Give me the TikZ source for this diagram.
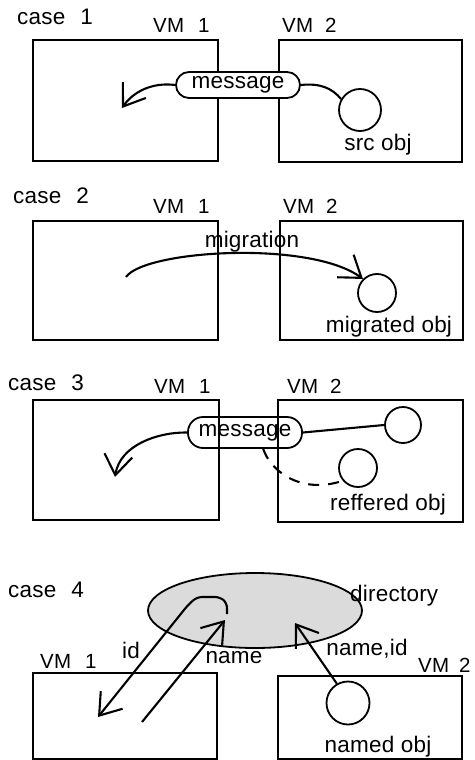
\documentclass[tikz,border=0pt]{standalone}
\usepackage{fontspec}
\setmainfont{Liberation Sans}[LetterSpace=1]
\newfontfamily\vmfont{Liberation Sans}[LetterSpace=1]
\usetikzlibrary{arrows.meta,shapes.geometric}
\begin{document}
\begin{tikzpicture}[x=1pt,y=-1pt,
  every node/.style={font=\fontsize{22.5}{24}\selectfont},
  txt/.style={inner sep=0pt},
  vml/.style={inner sep=0pt, anchor=base west, font=\vmfont\fontsize{20.5}{22}\selectfont},
  vmbox/.style={draw, rectangle, line width=1.8pt, inner sep=0pt},
  obj/.style={draw, circle, line width=1.8pt, inner sep=0pt},
  msgbox/.style={draw, rectangle, line width=1.8pt, inner sep=0pt},
  conn/.style={line width=2.1pt},
  arr/.style={conn, -{Straight Barb[length=20pt,width=28pt]}},
  dashline/.style={conn, dash pattern=on 11pt off 9pt},
]
\useasboundingbox (0,0) rectangle (474,760);

% ---------- case 1
\node[txt, anchor=base west] (t1) at (17,25) {case\hskip 15pt 1};
\node[vml] (v11) at (153,33) {VM\hskip 14pt 1};
\node[vml] (v12) at (282,33) {VM\hskip 12pt 2};
\node[vmbox, minimum width=185pt, minimum height=121pt] (a1) at (125.5,100.5) {};
\node[vmbox, minimum width=183pt, minimum height=122pt] (a2) at (370.5,101) {};
\node[msgbox, rounded corners=13pt, fill=white, minimum width=124pt, minimum height=26pt] (m1) at (238,85) {message};
\node[obj, minimum size=42pt] (o1) at (360,110) {};
\node[txt, anchor=base] (s1) at (378,150) {src obj};
\coordinate (e1) at (122,108);
\draw[arr] (m1.west) .. controls (152,82) and (133,92) .. (e1);
\draw[conn] (m1.east) .. controls (320,83) and (332,88) .. (o1.150);

% ---------- case 2
\node[txt, anchor=base west] (t2) at (13,203) {case\hskip 15pt 2};
\node[vml] (v21) at (153,213) {VM\hskip 14pt 1};
\node[vml] (v22) at (283,213) {VM\hskip 12pt 2};
\node[vmbox, minimum width=185pt, minimum height=119pt] (b1) at (125.5,280.5) {};
\node[vmbox, minimum width=183pt, minimum height=119pt] (b2) at (371.5,280.5) {};
\node[txt, anchor=base] (mig) at (252,247) {migration};
\node[obj, minimum size=38pt] (o2) at (377,293) {};
\node[txt, anchor=base] (s2) at (389,332) {migrated obj};
\coordinate (st2) at (126,277);
\draw[arr] (st2) .. controls (145,250) and (310,240) .. (o2.135);

% ---------- case 3
\node[txt, anchor=base west] (t3) at (8,390) {case\hskip 15pt 3};
\node[vml] (v31) at (154,393) {VM\hskip 14pt 1};
\node[vml] (v32) at (287,393) {VM\hskip 12pt 2};
\node[vmbox, minimum width=186pt, minimum height=120pt] (c1) at (126,460) {};
\node[vmbox, minimum width=185pt, minimum height=122pt] (c2) at (370.5,461) {};
\node[msgbox, rounded corners=15pt, minimum width=114pt, minimum height=31pt] (m3) at (245,432.5) {message};
\node[obj, minimum size=36pt] (o3a) at (403,425) {};
\node[obj, minimum size=38pt] (o3b) at (358,468) {};
\node[txt, anchor=base] (s3) at (388,510) {reffered obj};
\coordinate (e3) at (115,477);
\draw[arr] (m3.west) .. controls (158,432) and (120,445) .. (e3);
\draw[conn] (m3.east) -- (o3a.west);
\draw[dashline] (m3.-42) .. controls (270,470) and (300,495) .. (o3b.-140);

% ---------- case 4
\node[txt, anchor=base west] (t4) at (8,597) {case\hskip 15pt 4};
\node[draw, ellipse, fill=gray!28, line width=1.8pt, inner sep=0pt,
      minimum width=214pt, minimum height=75pt] (dir) at (255,610.5) {};
\node[txt, anchor=base west] (dl) at (350,601) {directory};
\node[vml] (v41) at (40,668) {VM\hskip 14pt 1};
\node[vml] (v42) at (418,672) {VM\hskip 10pt 2};
\node[vmbox, minimum width=184pt, minimum height=86pt] (d1) at (125,716) {};
\node[vmbox, minimum width=184pt, minimum height=83pt] (d2) at (370,717.5) {};
\node[obj, minimum size=43pt] (o4) at (348,703) {};
\node[txt, anchor=base] (s4) at (378,752) {named obj};
\node[txt, anchor=base] (lid) at (131,658) {id};
\node[txt, anchor=base] (lname) at (234,663) {name};
\node[txt, anchor=base] (lnid) at (367,655) {name,id};
\coordinate (k4) at (295,623);
\coordinate (n1) at (142,722);
\coordinate (n2) at (225,620);
\coordinate (i1) at (227,614);
\coordinate (i2) at (98,717);
\draw[arr] (o4.120) -- (k4);
\draw[arr] (n1) -- (n2);
\draw[arr, rounded corners=5pt] (i1) -- (227,603) -- (220,597) -- (197,597) -- (188,605) -- (i2);
\end{tikzpicture}
\end{document}
